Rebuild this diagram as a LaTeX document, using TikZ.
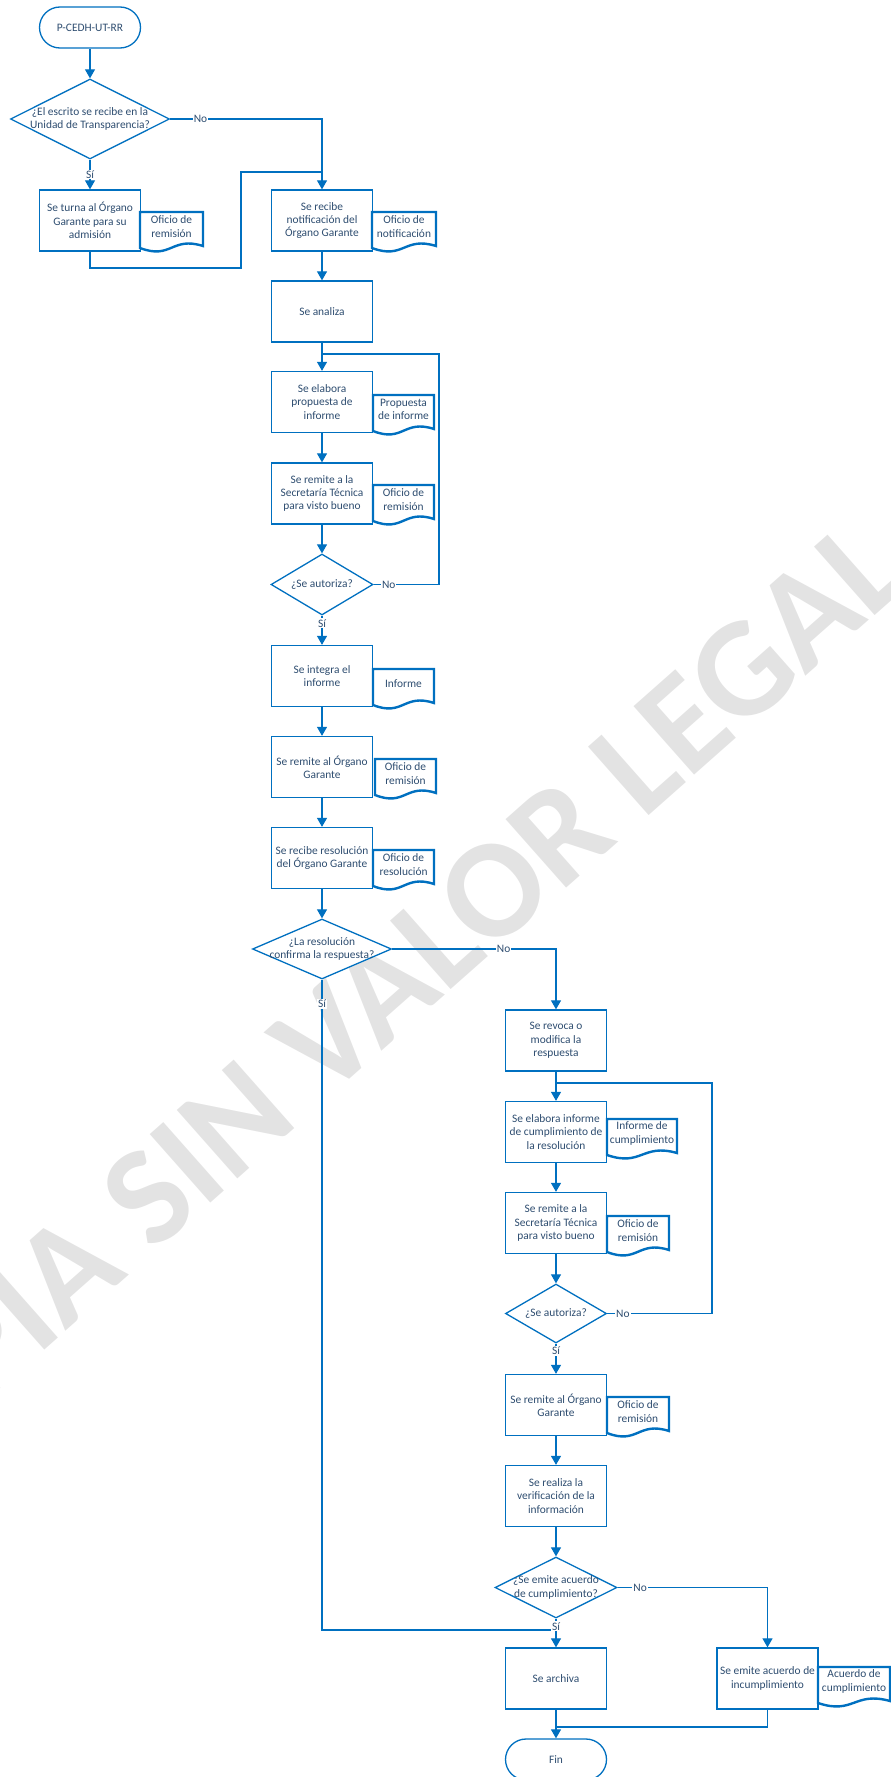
\documentclass[tikz,border=0pt]{standalone}
\usepackage{fontspec}
\setmainfont{Carlito}
\usetikzlibrary{shapes.geometric,arrows.meta,calc}
\definecolor{flowblue}{HTML}{0070C0}
\definecolor{flowtext}{HTML}{2E4D70}

\tikzset{
  txt/.style={text=flowtext, font=\fontsize{11.4}{13.3}\selectfont, align=center},
  base/.style={txt, draw=flowblue, line width=1.3pt, inner sep=0pt, fill=white},
  procbox/.style={base, rectangle, minimum width=101pt, minimum height=61pt},
  terminal/.style={base, rectangle, rounded corners=20.5pt, minimum width=101pt, minimum height=41pt},
  decision/.style n args={2}{base, diamond, minimum width=#1, minimum height=#2},
  dtext/.style={txt, inner sep=0pt},
  doctext/.style={txt, inner sep=0pt},
  docline/.style={draw=flowblue, line width=2.4pt, fill=white, line join=miter},
  line/.style={draw=flowblue, line width=1.2pt},
  flow/.style={line, -{Triangle[length=9pt,width=10pt]}},
  lbl/.style={txt, fill=white, inner sep=1pt},
  watermark/.style={text=black!11, font=\fontsize{141}{141}\selectfont\bfseries, inner sep=0pt}
}

% document symbol: name, left x, top y, right x, text
\newcommand{\flowdoc}[5]{%
  \draw[docline] (#2,#3+36) -- (#2,#3) -- (#4,#3) -- (#4,#3+34)
    .. controls ({(#2+#4)/2},#3+24) and ({(#2+#4)/2},#3+48) .. (#2,#3+36) -- cycle;
  \node[doctext] (#1) at ({(#2+#4)/2},#3+14.5) {#5};
}

\begin{document}
\begin{tikzpicture}[x=1pt, y=-1pt]
\useasboundingbox (0,0) rectangle (891,1777);

% background stamp
\node[watermark, rotate=41.5] (stamp) at (354,1015) {COPIA SIN VALOR LEGAL};

% ---------- nodes ----------
\node[terminal] (start) at (90,27.5) {P-CEDH-UT-RR};
\node[decision={159pt}{80pt}, label={[dtext]center:{¿El escrito se recibe en la\\Unidad de Transparencia?}}] (d1) at (90,119) {};
\node[procbox] (turna) at (90,220.5) {Se turna al Órgano\\Garante para su\\admisión};
\flowdoc{doc1}{140}{212}{203}{Oficio de\\remisión}

\node[procbox] (recibe) at (322,220.5) {Se recibe\\notificación del\\Órgano Garante};
\flowdoc{doc2}{372}{212}{436}{Oficio de\\notificación}
\node[procbox] (analiza) at (322,311.5) {Se analiza};
\node[procbox] (elabora) at (322,402) {Se elabora\\propuesta de\\informe};
\flowdoc{doc3}{373}{395}{434}{Propuesta\\de informe}
\node[procbox] (remST) at (322,493.5) {Se remite a la\\Secretaría Técnica\\para visto bueno};
\flowdoc{doc4}{373}{485}{434}{Oficio de\\remisión}
\node[decision={102pt}{61pt}, label={[dtext]center:{¿Se autoriza?}}] (d2) at (322,584.5) {};
\node[procbox] (integra) at (322,676) {Se integra el\\informe};
\flowdoc{doc5}{373}{669}{434}{Informe}
\node[procbox] (remOG) at (322,767) {Se remite al Órgano\\Garante};
\flowdoc{doc6}{375}{759}{436}{Oficio de\\remisión}
\node[procbox] (recRes) at (322,858) {Se recibe resolución\\del Órgano Garante};
\flowdoc{doc7}{373}{850}{434}{Oficio de\\resolución}
\node[decision={139pt}{60pt}, label={[dtext]center:{¿La resolución\\confirma la respuesta?}}] (d3) at (322,949) {};

\node[procbox] (revoca) at (556,1040.5) {Se revoca o\\modifica la\\respuesta};
\node[procbox] (elab2) at (556,1132) {Se elabora informe\\de cumplimiento de\\la resolución};
\flowdoc{doc8}{607}{1119}{677}{Informe de\\cumplimiento}
\node[procbox] (remST2) at (556,1223) {Se remite a la\\Secretaría Técnica\\para visto bueno};
\flowdoc{doc9}{607}{1216}{669}{Oficio de\\remisión}
\node[decision={101pt}{59pt}, label={[dtext]center:{¿Se autoriza?}}] (d4) at (556,1313.5) {};
\node[procbox] (remOG2) at (556,1405) {Se remite al Órgano\\Garante};
\flowdoc{doc10}{607}{1397}{669}{Oficio de\\remisión}
\node[procbox] (verif) at (556,1496) {Se realiza la\\verificación de la\\información};
\node[decision={122pt}{61pt}, label={[dtext]center:{¿Se emite acuerdo\\de cumplimiento?}}] (d5) at (556,1587.5) {};
\node[procbox] (archiva) at (556,1678.5) {Se archiva};
\node[procbox] (incump) at (767.5,1678.5) {Se emite acuerdo de\\incumplimiento};
\flowdoc{doc11}{818}{1667}{890}{Acuerdo de\\cumplimiento}
\node[terminal] (fin) at (556,1759.5) {Fin};

% ---------- junction and bend points ----------
\coordinate (j0) at (322,172);
\coordinate (b0a) at (90,268);
\coordinate (b0b) at (241,268);
\coordinate (b0c) at (241,172);
\coordinate (j1) at (322,354);
\coordinate (b1) at (439,354);
\coordinate (j2) at (556,1083);
\coordinate (b2) at (712,1083);
\coordinate (j4) at (556,1630);
\coordinate (j5) at (556,1727);

% ---------- connectors ----------
\draw[flow] (start) -- (d1);
\draw[flow] (d1.south) -- node[lbl]{Sí} (turna.north);
\draw[flow] (d1.east) -- node[lbl,pos=0.2]{No} (d1.east -| recibe.north) -- (recibe.north);
\draw[line] (turna.south) -- (b0a) -- (b0b) -- (b0c) -- (j0);

\draw[flow] (recibe) -- (analiza);
\draw[flow] (analiza) -- (elabora);
\draw[flow] (elabora) -- (remST);
\draw[flow] (remST) -- (d2);
\draw[line] (d2.east) -- node[lbl,pos=0.23]{No} (d2.east -| b1) -- (b1) -- (j1);
\draw[flow] (d2.south) -- node[lbl,pos=0.26]{Sí} (integra.north);
\draw[flow] (integra) -- (remOG);
\draw[flow] (remOG) -- (recRes);
\draw[flow] (recRes) -- (d3);
\draw[flow] (d3.east) -- node[lbl,pos=0.68]{No} (d3.east -| revoca.north) -- (revoca.north);
\draw[line] (d3.south) -- node[lbl,pos=0.037]{Sí} (d3.south |- j4) -- (j4);

\draw[flow] (revoca) -- (elab2);
\draw[flow] (elab2) -- (remST2);
\draw[flow] (remST2) -- (d4);
\draw[line] (d4.east) -- node[lbl,pos=0.15]{No} (d4.east -| b2) -- (b2) -- (j2);
\draw[flow] (d4.south) -- node[lbl,pos=0.23]{Sí} (remOG2.north);
\draw[flow] (remOG2) -- (verif);
\draw[flow] (verif) -- (d5);
\draw[flow] (d5.south) -- node[lbl,pos=0.27]{Sí} (archiva.north);
\draw[flow] (d5.east) -- node[lbl,pos=0.15]{No} (d5.east -| incump.north) -- (incump.north);
\draw[flow] (archiva) -- (fin);
\draw[line] (incump.south) -- (incump.south |- j5) -- (j5);
\end{tikzpicture}
\end{document}
